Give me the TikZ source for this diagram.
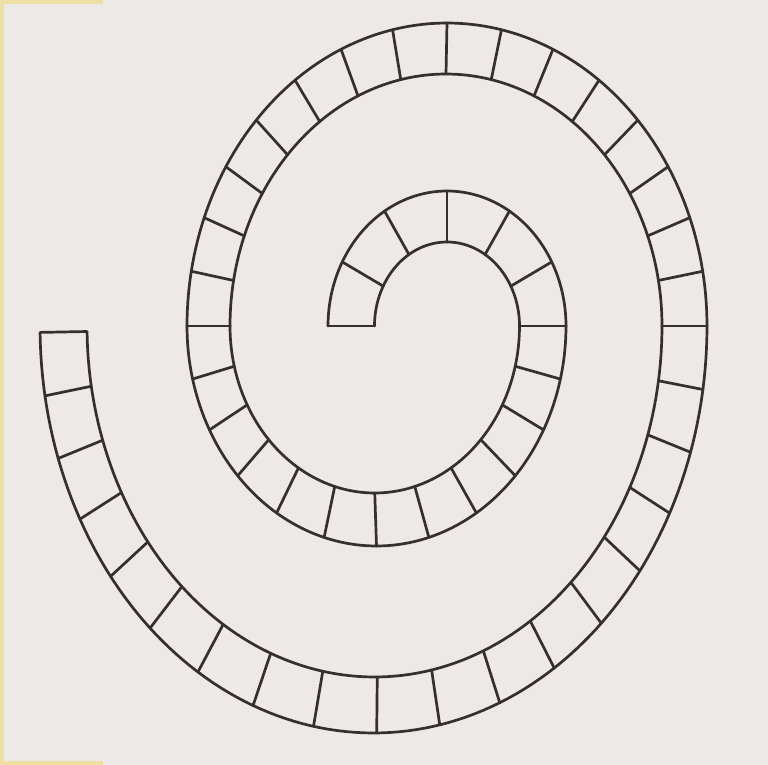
\documentclass[tikz,border=0pt]{standalone}
\definecolor{paper}{RGB}{237,233,233}
\definecolor{tape}{RGB}{238,224,165}
\definecolor{ink}{RGB}{55,47,47}

% One half turn of the track: inner edge (xL, xR, ry), outer edge (xL, xR, ry),
% side (-1 upper, 1 lower), number of cells, last angle.
\newcommand{\trackhalf}[9]{%
  \pgfmathsetmacro\rxmid{((#2-#1)+(#5-#4))/4}
  \pgfmathsetmacro\rymid{(#3+#6)/2}
  \pgfmathsetmacro\skew{deg((\rymid-\rxmid)/(2*(\rymid+\rxmid)))}
  \draw[edge] plot[domain=0:#9, samples=120]
    ({(#1+#2)/2+(#2-#1)/2*cos(\x)}, {326+(#7)*#3*sin(\x)});
  \draw[edge] plot[domain=0:#9, samples=120]
    ({(#4+#5)/2+(#5-#4)/2*cos(\x)}, {326+(#7)*#6*sin(\x)});
  \foreach \k in {0,...,#8} {
    \pgfmathsetmacro\ucell{#9*\k/#8}
    \pgfmathsetmacro\tcell{\ucell-\skew*sin(2*\ucell)}
    \draw[edge]
      ({(#1+#2)/2+(#2-#1)/2*cos(\tcell)}, {326+(#7)*#3*sin(\tcell)}) --
      ({(#4+#5)/2+(#5-#4)/2*cos(\tcell)}, {326+(#7)*#6*sin(\tcell)});
  }%
}

\begin{document}
\begin{tikzpicture}[
  x=1pt, y=-1pt,
  edge/.style={draw=ink, line width=2.7pt, line cap=round, line join=round}
]

% Paper and the yellow margins of the scan.
\fill[paper] (0,0) rectangle (768,765);
\useasboundingbox (0,0) rectangle (768,765);
\fill[tape] (0,0) rectangle (4,765);
\fill[tape] (0,0) rectangle (103,4);
\fill[tape] (0,761) rectangle (103,765);

% Spiral track, from the inner end outwards, one half turn at a time.
\trackhalf{374.5}{519.5}{84}{328}{566}{135}{-1}{6}{180}
\trackhalf{230}{519.5}{167}{187}{566}{220}{1}{12}{180}
\trackhalf{230}{662}{252}{187}{707}{303}{-1}{16}{180}
\trackhalf{87}{662}{351}{40}{707}{407}{1}{18}{179}

\end{tikzpicture}
\end{document}
